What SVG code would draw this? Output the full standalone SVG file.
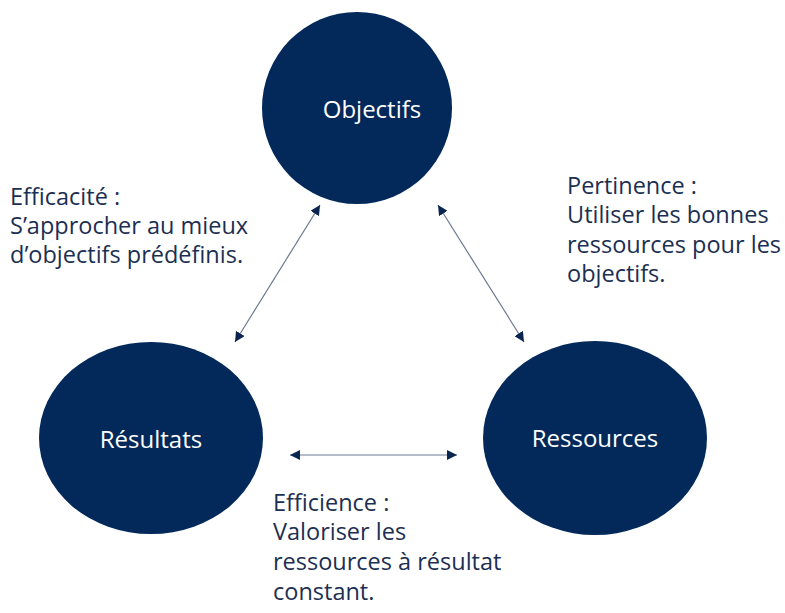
<svg xmlns="http://www.w3.org/2000/svg" width="785" height="613" viewBox="0 0 785 613">
  <style>
    .node { fill: #02295a; }
    .label { font-family: "Open Sans", "Noto Sans", sans-serif; font-size: 24px; fill: #ffffff; text-anchor: middle; }
    .note { font-family: "Open Sans", "Noto Sans", sans-serif; font-size: 23.5px; fill: #1c2f52; }
    .link { stroke: #6b7a92; stroke-width: 1.2; fill: none; marker-start: url(#head); marker-end: url(#head); }
  </style>
  <defs>
    <marker id="head" viewBox="0 0 10 10" refX="10" refY="5" markerWidth="10" markerHeight="10" markerUnits="userSpaceOnUse" orient="auto-start-reverse">
      <path d="M0,0 L10,5 L0,10 z" fill="#0a2550"/>
    </marker>
  </defs>

  <rect width="785" height="613" fill="#ffffff"/>

  <g id="objectifs">
    <ellipse class="node" cx="357" cy="108" rx="95" ry="96"/>
    <text class="label" x="372" y="118">Objectifs</text>
  </g>
  <g id="resultats">
    <ellipse class="node" cx="151" cy="438" rx="112" ry="96"/>
    <text class="label" x="151" y="448">Résultats</text>
  </g>
  <g id="ressources">
    <ellipse class="node" cx="595" cy="438" rx="112" ry="97"/>
    <text class="label" x="595" y="447">Ressources</text>
  </g>

  <g id="connectors">
    <line class="link" x1="235" y1="342" x2="320" y2="205"/>
    <line class="link" x1="438" y1="205" x2="524" y2="342"/>
    <line class="link" x1="290" y1="455" x2="457" y2="455"/>
  </g>

  <g id="notes">
    <text class="note" x="10" y="205">Efficacité :</text>
    <text class="note" x="10" y="234">S’approcher au mieux</text>
    <text class="note" x="10" y="263">d’objectifs prédéfinis.</text>

    <text class="note" x="567" y="194">Pertinence :</text>
    <text class="note" x="567" y="223">Utiliser les bonnes</text>
    <text class="note" x="567" y="253">ressources pour les</text>
    <text class="note" x="567" y="282">objectifs.</text>

    <text class="note" x="273" y="511">Efficience :</text>
    <text class="note" x="273" y="540">Valoriser les</text>
    <text class="note" x="273" y="570">ressources à résultat</text>
    <text class="note" x="273" y="600">constant.</text>
  </g>
</svg>
